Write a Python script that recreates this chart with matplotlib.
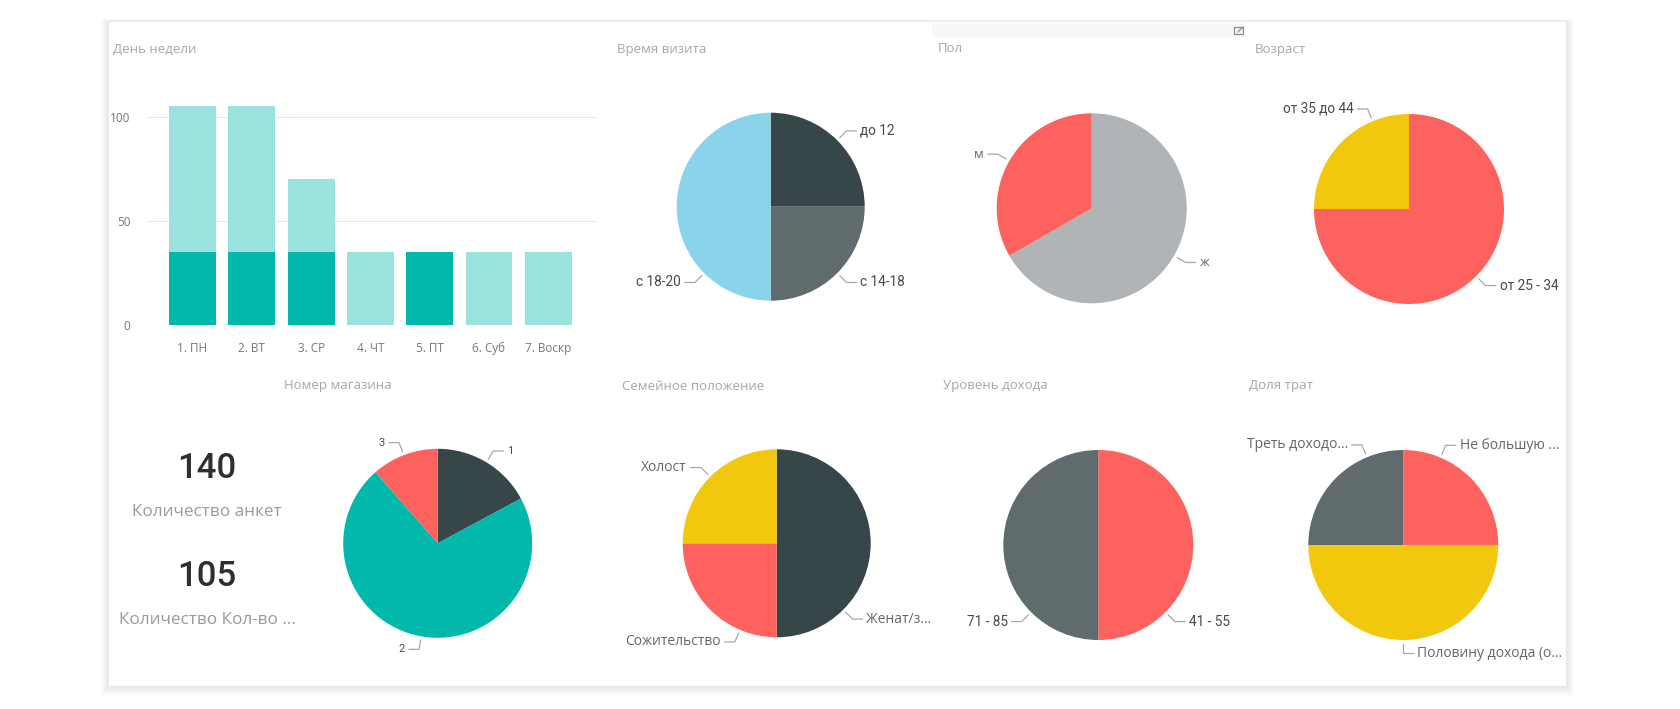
import numpy as np
import matplotlib
matplotlib.use("Agg")
import matplotlib.pyplot as plt
from matplotlib.patches import Rectangle

# ---------------- data ----------------
days = ["1. ПН", "2. ВТ", "3. СР", "4. ЧТ", "5. ПТ", "6. Суб", "7. Воскр"]
day_total = [105, 105, 70, 35, 35, 35, 35]
day_highlight = [35, 35, 35, 0, 35, 0, 0]
bar_yticks = [0, 50, 100]

visit_labels = ["до 12", "с 14-18", "с 18-20"]
visit_values = [35, 35, 70]

sex_labels = ["ж", "м"]
sex_values = [70, 35]

age_labels = ["от 25 - 34", "от 35 до 44"]
age_values = [105, 35]

store_labels = ["1", "2", "3"]
store_values = [24, 100, 16]

family_labels = ["Женат/з...", "Сожительство", "Холост"]
family_values = [70, 35, 35]

income_labels = ["41 - 55", "71 - 85"]
income_values = [70, 70]

spend_labels = ["Не большую ...", "Половину дохода (о...", "Треть доходо..."]
spend_values = [35, 70, 35]

card_values = ["140", "105"]
card_labels = ["Количество анкет", "Количество Кол-во ..."]

# ---------------- style ----------------
TEAL = "#01B8AA"
TEAL_LIGHT = "#99E2DD"
DARK = "#374649"
GREY = "#5F6B6D"
RED = "#FD625E"
YELLOW = "#F2C80F"
LBLUE = "#8AD4EB"
LGREY = "#B1B4B6"

TITLE_C = "#A6A6A6"
LABEL_C = "#4A4A4A"
TEXT_FONT = ["Open Sans", "DejaVu Sans"]
NUM_FONT = ["Roboto", "DejaVu Sans"]

W, H = 1680, 709
fig = plt.figure(figsize=(W / 100, H / 100), dpi=100)
fig.patch.set_facecolor("white")


def px_axes(x0, y0, w, h, **kw):
    return fig.add_axes([x0 / W, 1 - (y0 + h) / H, w / W, h / H], **kw)


# background / overlay axes in pixel coordinates
bg = px_axes(0, 0, W, H)
bg.set_xlim(0, W)
bg.set_ylim(H, 0)
bg.axis("off")

# card with soft shadow
cx0, cy0, cx1, cy1 = 109, 22, 1566, 686
for i in range(8, 0, -1):
    bg.add_patch(Rectangle((cx0 - i, cy0 - i * 0.4), (cx1 - cx0) + 2 * i, (cy1 - cy0) + i * 1.6,
                           facecolor="#000000", alpha=0.012, edgecolor="none"))
bg.add_patch(Rectangle((cx0, cy0), cx1 - cx0, cy1 - cy0, facecolor="white", edgecolor="none"))
# visual header strip and focus icon
bg.add_patch(Rectangle((932, 23), 312, 15, facecolor="#F8F8F8", edgecolor="none"))
bg.add_patch(Rectangle((1234, 27), 9, 7, facecolor="none", edgecolor="#8A8A8A", lw=0.9))
bg.plot([1238, 1243], [32, 27], color="#8A8A8A", lw=0.9)

# titles
titles = [("День недели", 113, 49), ("Время визита", 617, 49), ("Пол", 938, 49),
          ("Возраст", 1255, 49), ("Номер магазина", 284, 386), ("Семейное положение", 622, 386),
          ("Уровень дохода", 943, 386), ("Доля трат", 1249, 386)]
for t, x, y in titles:
    bg.text(x, y, t, fontsize=9.5, color=TITLE_C, family=TEXT_FONT, ha="left", va="center")

# cards
card_pos = [(207, 468, 512), (207, 577, 620)]
for (x, yv, yl), v, l in zip(card_pos, card_values, card_labels):
    bg.text(x, yv, v, fontsize=25, color="#2F2F2F", family=NUM_FONT, weight="medium",
            ha="center", va="center")
    bg.text(x, yl, l, fontsize=12.3, color="#9A9A9A", family=TEXT_FONT, ha="center", va="center")

# ---------------- bar chart ----------------
step = 59.3
x_first = 192.5
y0_px = 325
px_per_unit = (325 - 116.7) / 100
ax_left, ax_right = 147, 597
ytop = 106
bax = px_axes(ax_left, ytop, ax_right - ax_left, y0_px - ytop)
x = np.arange(len(days))
bax.bar(x, day_total, width=0.79, color=TEAL_LIGHT, zorder=2)
bax.bar(x, day_highlight, width=0.79, color=TEAL, zorder=3)
bax.set_xlim((ax_left - x_first) / step, (ax_right - x_first) / step)
bax.set_ylim(0, (y0_px - ytop) / px_per_unit)
bax.set_yticks(bar_yticks)
bax.set_xticks(x)
bax.set_xticklabels(days)
for s in bax.spines.values():
    s.set_visible(False)
bax.grid(axis="y", color="#E8E8E8", lw=0.8, zorder=0)
bax.set_axisbelow(True)
bax.tick_params(axis="both", length=0, colors="#777777", labelsize=8.5)
bax.tick_params(axis="x", pad=12)
bax.tick_params(axis="y", pad=12)
for lab in bax.get_xticklabels() + bax.get_yticklabels():
    lab.set_family(TEXT_FONT)
bax.set_facecolor("none")

# ---------------- pies ----------------
R = 95


def draw_pie(cx, cy, values, labels, colors, angles, font, fsize, lcolor, r=R):
    S = 130
    ax = px_axes(cx - S, cy - S, 2 * S, 2 * S)
    ax.pie(values, colors=colors, startangle=90, counterclock=False,
           wedgeprops=dict(linewidth=0), radius=1)
    ax.set_xlim(-S / r, S / r)
    ax.set_ylim(-S / r, S / r)
    ax.set_aspect("equal")
    ax.axis("off")
    hlen = 10 / r
    gap = 4 / r
    for lab, th in zip(labels, angles):
        t = np.deg2rad(th)
        ux, uy = np.sin(t), np.cos(t)
        p1 = (1.04 * ux, 1.04 * uy)
        p2 = (1.14 * ux, 1.14 * uy)
        d = 1 if ux >= -1e-9 else -1
        p3 = (p2[0] + d * hlen, p2[1])
        ax.plot([p1[0], p2[0], p3[0]], [p1[1], p2[1], p3[1]], color="#A8A8A8", lw=0.9,
                clip_on=False, solid_joinstyle="miter")
        ax.text(p3[0] + d * gap, p3[1], lab, ha="left" if d > 0 else "right", va="center",
                fontsize=fsize, color=lcolor, family=font, clip_on=False)
    return ax


draw_pie(770.7, 206.7, visit_values, visit_labels, [DARK, GREY, LBLUE], [45, 135, 225],
         NUM_FONT, 9.8, LABEL_C, r=94)
draw_pie(1091.7, 208.3, sex_values, sex_labels, [LGREY, RED], [120, 300],
         TEXT_FONT, 9.5, "#666666")
draw_pie(1409, 209, age_values, age_labels, [RED, YELLOW], [135, 337.5],
         NUM_FONT, 9.8, LABEL_C)
draw_pie(437.7, 543.3, store_values, store_labels, [DARK, TEAL, RED], [31, 190, 339],
         NUM_FONT, 8, LABEL_C, r=94.5)
draw_pie(776.7, 543.3, family_values, family_labels, [DARK, RED, YELLOW], [135, 203, 315],
         TEXT_FONT, 10, "#666666", r=94)
draw_pie(1098.3, 545, income_values, income_labels, [RED, GREY], [135, 225],
         NUM_FONT, 9.8, LABEL_C)
draw_pie(1403.3, 545, spend_values, spend_labels, [RED, YELLOW, GREY], [23, 180, 337.5],
         TEXT_FONT, 10, "#666666")

fig.savefig("out.png", dpi=100, facecolor="white")
